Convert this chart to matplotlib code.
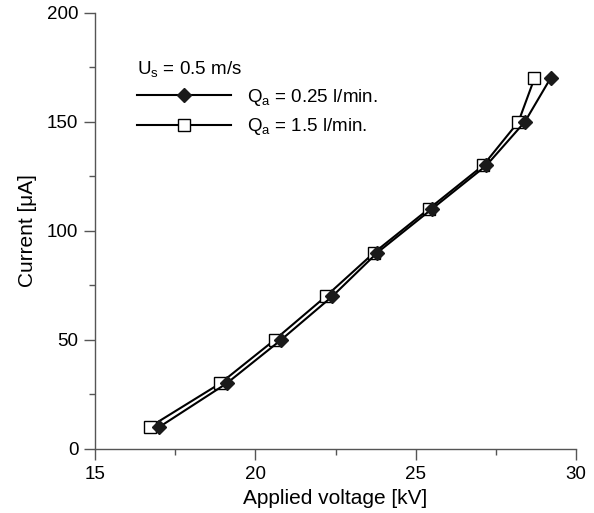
import matplotlib
matplotlib.use("Agg")
import matplotlib.pyplot as plt
from matplotlib.ticker import MultipleLocator

plt.rcParams['font.family'] = ['Liberation Sans', 'DejaVu Sans']
plt.rcParams['mathtext.fontset'] = 'custom'
plt.rcParams['mathtext.rm'] = 'Liberation Sans'
plt.rcParams['mathtext.it'] = 'Liberation Sans'

# データ
current = [10, 30, 50, 70, 90, 110, 130, 150, 170]
volt_q025 = [17.0, 19.1, 20.8, 22.4, 23.8, 25.5, 27.2, 28.4, 29.2]
volt_q15 = [16.7, 18.9, 20.6, 22.2, 23.7, 25.4, 27.1, 28.2, 28.7]

fig = plt.figure(figsize=(5.94, 5.13), dpi=100)
ax = fig.add_axes([0.16, 0.125, 0.81, 0.85])

# 白抜き四角を先に描き、黒菱形を上に重ねる
l2, = ax.plot(volt_q15, current, color='black', linewidth=1.5, marker='s',
              markersize=8, markerfacecolor='white', markeredgecolor='black',
              markeredgewidth=1.0, label='Q$_\\mathrm{a}$ = 1.5 l/min.', zorder=2)
l1, = ax.plot(volt_q025, current, color='black', linewidth=1.5, marker='D',
              markersize=7, markerfacecolor='#1a1a1a', markeredgecolor='#1a1a1a',
              label='Q$_\\mathrm{a}$ = 0.25 l/min.', zorder=3)

ax.set_xlim(15, 30)
ax.set_ylim(0, 200)
ax.xaxis.set_major_locator(MultipleLocator(5))
ax.xaxis.set_minor_locator(MultipleLocator(2.5))
ax.yaxis.set_major_locator(MultipleLocator(50))
ax.yaxis.set_minor_locator(MultipleLocator(25))

for s in ['top', 'right']:
    ax.spines[s].set_visible(False)
for s in ['left', 'bottom']:
    ax.spines[s].set_color('#555555')
    ax.spines[s].set_linewidth(1.0)

ax.tick_params(which='major', direction='out', length=8, width=1.0,
               color='#555555', labelsize=13.5, pad=4)
ax.tick_params(which='minor', direction='out', length=4, width=1.0,
               color='#555555')

ax.set_xlabel('Applied voltage [kV]', fontsize=15, labelpad=5)
ax.set_ylabel('Current [μA]', fontsize=15, labelpad=7)

leg = ax.legend([l1, l2], [l1.get_label(), l2.get_label()],
                title='U$_\\mathrm{s}$ = 0.5 m/s', frameon=False,
                loc='upper left', bbox_to_anchor=(0.087, 0.895),
                fontsize=13.5, title_fontsize=13.5, handlelength=5.0,
                handletextpad=0.85, labelspacing=0.45, borderpad=0,
                borderaxespad=0, alignment='left')

fig.savefig('out.png', dpi=100)
